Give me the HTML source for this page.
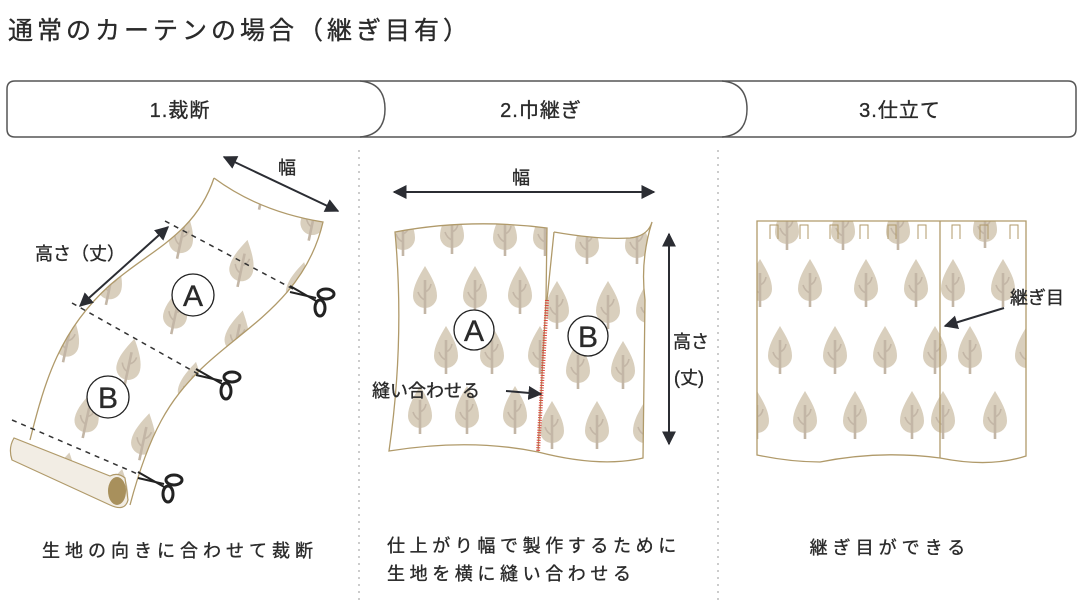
<!DOCTYPE html>
<html><head><meta charset="utf-8"><style>
html,body{margin:0;padding:0;background:#fff;}
svg{display:block;}
text{font-family:"Liberation Sans","Noto Sans CJK JP",sans-serif;fill:#2a2a2a;stroke:#2a2a2a;stroke-width:0.35;}
.jp{font-family:"Noto Sans CJK JP","Liberation Sans",sans-serif;}
</style></head><body>
<svg width="1080" height="600" viewBox="0 0 1080 600" xmlns="http://www.w3.org/2000/svg">
<defs>
<g id="t">
<path d="M0,-24 C-6,-14 -12,-4 -12,6 A12,12 0 0 0 12,6 C12,-4 6,-14 0,-24 Z" fill="#d9cfbd"/>
<rect x="-1.3" y="-10" width="2.6" height="34" fill="#c3b6a6"/>
<path d="M0,2 Q5,0 6,-6 M0,10 Q-5,8 -7,2" stroke="#c3b6a6" stroke-width="1.6" fill="none"/>
</g>
<marker id="ah" viewBox="0 0 10 10" refX="9" refY="5" markerWidth="7" markerHeight="7" orient="auto-start-reverse"><path d="M0,0 L10,5 L0,10 Z" fill="#2b2d33"/></marker>
<g id="sc">
<line x1="-22" y1="-10" x2="6" y2="6" stroke="#222" stroke-width="2"/>
<line x1="-22" y1="-4" x2="4" y2="2" stroke="#222" stroke-width="2"/>
<ellipse cx="14" cy="-2" rx="8" ry="5" fill="none" stroke="#222" stroke-width="3"/>
<ellipse cx="8" cy="12" rx="5" ry="8" fill="none" stroke="#222" stroke-width="3"/>
</g>
<clipPath id="c1"><path d="M214,178 Q260,212 323,222 C305,300 240,330 200,370 C170,400 150,430 130,505 L30,440 C45,380 60,330 110,285 C150,250 195,235 214,178 Z"/></clipPath>
<clipPath id="c2a"><path d="M395,232 Q470,218 547,228 L546,300 L538,452 Q470,438 389,451 Q405,340 395,232 Z"/></clipPath>
<clipPath id="c2b"><path d="M554,232 Q600,240 630,238 Q648,236 652,222 Q640,260 645,300 L643,458 Q600,468 538,452 L547,300 Z"/></clipPath>
<clipPath id="c3"><path d="M757,221 L1026,221 L1026,456 Q990,468 940,458 Q880,450 820,462 Q790,462 757,455 Z"/></clipPath>
</defs>

<text x="8" y="39" font-size="25" letter-spacing="4" class="jp">通常のカーテンの場合（継ぎ目有）</text>

<!-- tabs -->
<path d="M15,81 L1068,81 Q1076,81 1076,89 L1076,129 Q1076,137 1068,137 L15,137 Q7,137 7,129 L7,89 Q7,81 15,81 Z" fill="#fff" stroke="#555" stroke-width="1.5"/>
<path d="M360,81 Q385,83 385,109 Q385,135 360,137" fill="none" stroke="#555" stroke-width="1.5"/>
<path d="M722,81 Q747,83 747,109 Q747,135 722,137" fill="none" stroke="#555" stroke-width="1.5"/>
<text x="180" y="117" font-size="20" text-anchor="middle" letter-spacing="1">1.裁断</text>
<text x="541" y="117" font-size="20" text-anchor="middle" letter-spacing="1">2.巾継ぎ</text>
<text x="900" y="117" font-size="20" text-anchor="middle" letter-spacing="1">3.仕立て</text>

<line x1="359" y1="150" x2="359" y2="600" stroke="#ccc" stroke-width="2" stroke-dasharray="2,5"/>
<line x1="718" y1="150" x2="718" y2="600" stroke="#ccc" stroke-width="2" stroke-dasharray="2,5"/>

<!-- panel 1 -->
<g clip-path="url(#c1)">
<g transform="rotate(12 170 340)">
<use href="#t" x="230" y="170"/><use href="#t" x="285" y="190"/><use href="#t" x="335" y="200"/>
<use href="#t" x="160" y="235"/><use href="#t" x="225" y="250"/><use href="#t" x="285" y="260"/>
<use href="#t" x="100" y="295"/><use href="#t" x="170" y="310"/><use href="#t" x="235" y="320"/>
<use href="#t" x="70" y="360"/><use href="#t" x="135" y="370"/><use href="#t" x="200" y="380"/>
<use href="#t" x="45" y="420"/><use href="#t" x="105" y="430"/><use href="#t" x="165" y="440"/>
<use href="#t" x="40" y="490"/><use href="#t" x="95" y="495"/><use href="#t" x="150" y="500"/>
</g>
</g>
<path d="M214,178 Q260,212 323,222 C305,300 240,330 200,370 C170,400 150,430 130,505 M30,440 C45,380 60,330 110,285 C150,250 195,235 214,178" fill="none" stroke="#b09a6a" stroke-width="1.3"/>
<path d="M14,438 Q8,448 12,460 L110,505 Q125,512 128,500 L125,478 Q118,472 110,476 Z" fill="#f2ede4" stroke="#b09a6a" stroke-width="1.2"/>
<ellipse cx="117" cy="491" rx="9" ry="14" fill="#a8905c"/>
<line x1="165" y1="221" x2="295" y2="290" stroke="#333" stroke-width="1.5" stroke-dasharray="5,5"/>
<line x1="72" y1="303" x2="200" y2="375" stroke="#333" stroke-width="1.5" stroke-dasharray="5,5"/>
<line x1="12" y1="420" x2="140" y2="475" stroke="#333" stroke-width="1.5" stroke-dasharray="5,5"/>
<use href="#sc" x="312" y="296"/>
<use href="#sc" x="218" y="379"/>
<use href="#sc" x="160" y="482"/>
<line x1="224" y1="157" x2="338" y2="211" stroke="#2b2d33" stroke-width="2" marker-start="url(#ah)" marker-end="url(#ah)"/>
<line x1="168" y1="227" x2="80" y2="306" stroke="#2b2d33" stroke-width="2" marker-start="url(#ah)" marker-end="url(#ah)"/>
<text x="278" y="174" font-size="18">幅</text>
<text x="35" y="260" font-size="18">高さ（丈）</text>
<circle cx="193" cy="295" r="21" fill="#fff" stroke="#222" stroke-width="1.3"/>
<text x="193" y="306" font-size="30" text-anchor="middle">A</text>
<circle cx="108" cy="397" r="21" fill="#fff" stroke="#222" stroke-width="1.3"/>
<text x="108" y="408" font-size="30" text-anchor="middle">B</text>

<!-- panel 2 -->
<g clip-path="url(#c2a)">
<use href="#t" x="403" y="232"/><use href="#t" x="452" y="230"/><use href="#t" x="505" y="232"/><use href="#t" x="545" y="232"/>
<use href="#t" x="425" y="290"/><use href="#t" x="475" y="290"/><use href="#t" x="520" y="290"/>
<use href="#t" x="446" y="350"/><use href="#t" x="492" y="350"/><use href="#t" x="540" y="350"/>
<use href="#t" x="420" y="410"/><use href="#t" x="467" y="410"/><use href="#t" x="515" y="410"/>
</g>
<g clip-path="url(#c2b)">
<use href="#t" x="587" y="240"/><use href="#t" x="637" y="240"/>
<use href="#t" x="557" y="305"/><use href="#t" x="608" y="305"/><use href="#t" x="648" y="305"/>
<use href="#t" x="578" y="365"/><use href="#t" x="623" y="365"/>
<use href="#t" x="552" y="425"/><use href="#t" x="597" y="425"/><use href="#t" x="645" y="425"/>
</g>
<path d="M395,232 Q470,218 547,228 L546,300 L538,452 Q470,438 389,451 Q405,340 395,232 Z" fill="none" stroke="#b09a6a" stroke-width="1.3"/>
<path d="M554,232 Q600,240 630,238 Q648,236 652,222 Q640,260 645,300 L643,458 Q600,468 538,452 M547,300 L554,232" fill="none" stroke="#b09a6a" stroke-width="1.3"/>
<path d="M547,300 L538,452" stroke="#d9433a" stroke-width="4" stroke-dasharray="1,1.5"/>
<line x1="394" y1="192" x2="654" y2="192" stroke="#2b2d33" stroke-width="2" marker-start="url(#ah)" marker-end="url(#ah)"/>
<text x="521" y="184" font-size="18" text-anchor="middle">幅</text>
<line x1="669" y1="234" x2="669" y2="444" stroke="#2b2d33" stroke-width="2" marker-start="url(#ah)" marker-end="url(#ah)"/>
<text x="673" y="348" font-size="18">高さ</text>
<text x="674" y="384" font-size="18">(丈)</text>
<circle cx="474" cy="330" r="20" fill="#fff" stroke="#222" stroke-width="1.3"/>
<text x="474" y="341" font-size="30" text-anchor="middle">A</text>
<circle cx="588" cy="336" r="20" fill="#fff" stroke="#222" stroke-width="1.3"/>
<text x="588" y="347" font-size="30" text-anchor="middle">B</text>
<text x="372" y="397" font-size="18">縫い合わせる</text>
<line x1="506" y1="391" x2="541" y2="394" stroke="#2b2d33" stroke-width="2" marker-end="url(#ah)"/>

<!-- panel 3 -->
<g clip-path="url(#c3)">
<use href="#t" x="787" y="226"/><use href="#t" x="843" y="226"/><use href="#t" x="898" y="226"/><use href="#t" x="985" y="224"/>
<use href="#t" x="760" y="283"/><use href="#t" x="810" y="283"/><use href="#t" x="866" y="283"/><use href="#t" x="916" y="283"/><use href="#t" x="953" y="283"/><use href="#t" x="1003" y="283"/>
<use href="#t" x="780" y="350"/><use href="#t" x="835" y="350"/><use href="#t" x="885" y="350"/><use href="#t" x="935" y="350"/><use href="#t" x="970" y="350"/><use href="#t" x="1027" y="350"/>
<use href="#t" x="757" y="415"/><use href="#t" x="805" y="415"/><use href="#t" x="855" y="415"/><use href="#t" x="912" y="415"/><use href="#t" x="943" y="415"/><use href="#t" x="995" y="415"/>
</g>
<path d="M757,221 L1026,221 L1026,456 Q990,468 940,458 Q880,450 820,462 Q790,462 757,455 Z" fill="none" stroke="#b09a6a" stroke-width="1.3"/>
<line x1="940" y1="221" x2="940" y2="458" stroke="#b09a6a" stroke-width="1.3"/>
<g stroke="#b09a6a" stroke-width="1" fill="none">
<path d="M770,239 V225 H778 V239 M800,239 V225 H808 V239 M830,239 V225 H838 V239 M860,239 V225 H868 V239 M888,239 V225 H896 V239 M918,239 V225 H926 V239 M952,239 V225 H960 V239 M980,239 V225 H988 V239 M1010,239 V225 H1018 V239"/>
</g>
<line x1="1004" y1="308" x2="945" y2="326" stroke="#2b2d33" stroke-width="2" marker-end="url(#ah)"/>
<text x="1010" y="304" font-size="18">継ぎ目</text>

<!-- captions -->
<text x="180" y="557" font-size="18" text-anchor="middle" letter-spacing="5">生地の向きに合わせて裁断</text>
<text x="387" y="552" font-size="18" letter-spacing="4.6">仕上がり幅で製作するために</text>
<text x="387" y="580" font-size="18" letter-spacing="4.6">生地を横に縫い合わせる</text>
<text x="890" y="554" font-size="18" text-anchor="middle" letter-spacing="5">継ぎ目ができる</text>
</svg>
</body></html>
